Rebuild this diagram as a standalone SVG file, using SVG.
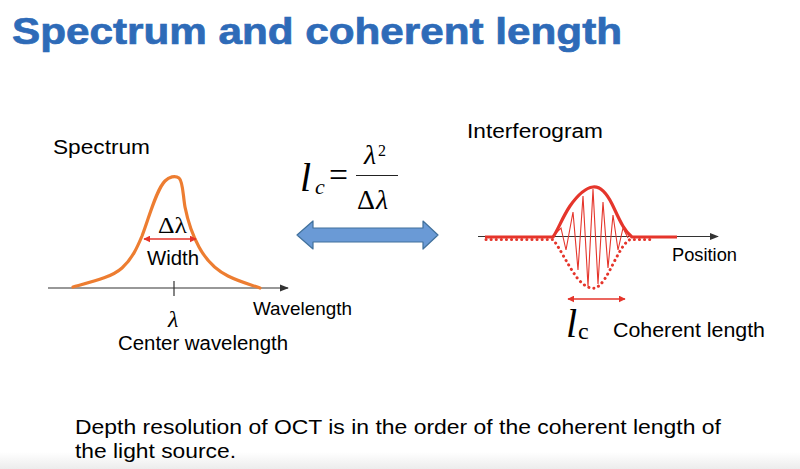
<svg xmlns="http://www.w3.org/2000/svg" width="800" height="469" viewBox="0 0 800 469">
<style>
.lbl{font-family:"Liberation Sans",Arial,sans-serif;fill:#000;}
.math{font-family:"Liberation Serif","Times New Roman",serif;fill:#000;}
.it{font-style:italic;}
.axis{stroke:#333;stroke-width:1.2;fill:none;}
.redarrow{stroke:#E5352B;stroke-width:1.6;fill:none;}
</style>
<defs>
<marker id="axhead" viewBox="0 0 10 10" refX="9" refY="5" markerWidth="9" markerHeight="9" markerUnits="userSpaceOnUse" orient="auto">
<path d="M0,1 L10,5 L0,9 Z" fill="#333"/>
</marker>
<marker id="redhead" viewBox="0 0 10 10" refX="9" refY="5" markerWidth="7" markerHeight="7" markerUnits="userSpaceOnUse" orient="auto-start-reverse">
<path d="M0,0 L10,5 L0,10 Z" fill="#E5352B"/>
</marker>
<linearGradient id="bottomfade" x1="0" y1="0" x2="0" y2="1">
<stop offset="0" stop-color="#ffffff"/>
<stop offset="1" stop-color="#ececec"/>
</linearGradient>
</defs>
<rect x="0" y="0" width="800" height="469" fill="#fff"/>
<rect x="0" y="452" width="800" height="17" fill="url(#bottomfade)"/>

<g id="title">
<text x="12" y="43.5" font-family="'Liberation Sans',Arial,sans-serif" font-weight="bold" font-size="36" fill="#2E6BB8" stroke="#2E6BB8" stroke-width="0.7" textLength="610" lengthAdjust="spacingAndGlyphs">Spectrum and coherent length</text>
</g>

<g id="spectrum">
<text class="lbl" x="53" y="153.5" font-size="20" textLength="97" lengthAdjust="spacingAndGlyphs">Spectrum</text>
<line class="axis" x1="48" y1="288" x2="288" y2="288" marker-end="url(#axhead)"/>
<line class="axis" x1="174" y1="281" x2="174" y2="296"/>
<path d="M73,287 C95,281 112,277 122,268 C132,259 137,248 142,236 C149,218 156,190 165,181 C169,177 175,175 179,178 C183,181 183,196 185,207 C188,222 193,236 199,247 C206,260 214,269 228,276 C240,282 252,285 260,288" fill="none" stroke="#ED7D31" stroke-width="3.2" stroke-linecap="round"/>
<text class="math" x="158" y="233" font-size="24" textLength="29" lengthAdjust="spacingAndGlyphs">Δλ</text>
<line class="redarrow" x1="144" y1="239" x2="196" y2="239" marker-start="url(#redhead)" marker-end="url(#redhead)"/>
<text class="lbl" x="147" y="265" font-size="20" textLength="52" lengthAdjust="spacingAndGlyphs">Width</text>
<text class="lbl" x="253" y="315" font-size="19" textLength="99" lengthAdjust="spacingAndGlyphs">Wavelength</text>
<text class="math it" x="168" y="327" font-size="24">λ</text>
<text class="lbl" x="118" y="350" font-size="20" textLength="170" lengthAdjust="spacingAndGlyphs">Center wavelength</text>
</g>

<g id="formula">
<text class="math it" x="300" y="191" font-size="40">l</text>
<text class="math it" x="315" y="194" font-size="22">c</text>
<text class="math" x="329" y="187" font-size="36" textLength="19" lengthAdjust="spacingAndGlyphs">=</text>
<text class="math it" x="364" y="164" font-size="28">λ</text>
<text class="math" x="378" y="156" font-size="16">2</text>
<line x1="356" y1="175.5" x2="398" y2="175.5" stroke="#222" stroke-width="1.2"/>
<text class="math" x="357" y="209" font-size="28">Δ</text>
<text class="math it" x="376" y="209" font-size="28">λ</text>
</g>

<g id="connectors">
<polygon points="297,235 313,221 313,228 423,228 423,221 438,235 423,249 423,242 313,242 313,249" fill="#6A9AD6" stroke="#41719C" stroke-width="1.2" stroke-linejoin="round"/>
</g>

<g id="interferogram">
<text class="lbl" x="467" y="138" font-size="20" textLength="136" lengthAdjust="spacingAndGlyphs">Interferogram</text>
<path d="M486,239.5 L553,239.5 C560,248 568,266 578,279 C584,286 590,289 595,288 C602,286 608,274 614,262 C620,251 624,243 630,239.5 L652,239.5" fill="none" stroke="#E5352B" stroke-width="3" stroke-dasharray="0.1 5" stroke-linecap="round"/>
<line class="axis" x1="478" y1="236.5" x2="718" y2="236.5" marker-end="url(#axhead)"/>
<polyline points="553,236 561,228 566,250 573,212 578,270 583,196 588,286 593,189 598,284 603,202 608,268 613,215 618,250 623,228 628,238" fill="none" stroke="#E5352B" stroke-width="1.1" stroke-linejoin="miter"/>
<path d="M485,237 L553,237 C558,230 562,218 570,206 C577,196 585,188 593,187 C601,186 607,194 612,204 C618,216 623,230 632,237 L677,237" fill="none" stroke="#E5352B" stroke-width="3.2" stroke-linejoin="round"/>
<text class="lbl" x="672" y="261" font-size="18" textLength="65" lengthAdjust="spacingAndGlyphs">Position</text>
<line class="redarrow" x1="568" y1="299" x2="625" y2="299" marker-start="url(#redhead)" marker-end="url(#redhead)"/>
<text class="math it" x="566" y="337" font-size="40">l</text>
<text class="math" x="578" y="339" font-size="24">c</text>
<text class="lbl" x="613" y="337" font-size="20" textLength="152" lengthAdjust="spacingAndGlyphs">Coherent length</text>
</g>

<g id="note">
<text class="lbl" x="75" y="434" font-size="21" textLength="646" lengthAdjust="spacingAndGlyphs">Depth resolution of OCT is in the order of the coherent length of</text>
<text class="lbl" x="75" y="458" font-size="21" textLength="161" lengthAdjust="spacingAndGlyphs">the light source.</text>
</g>
</svg>
